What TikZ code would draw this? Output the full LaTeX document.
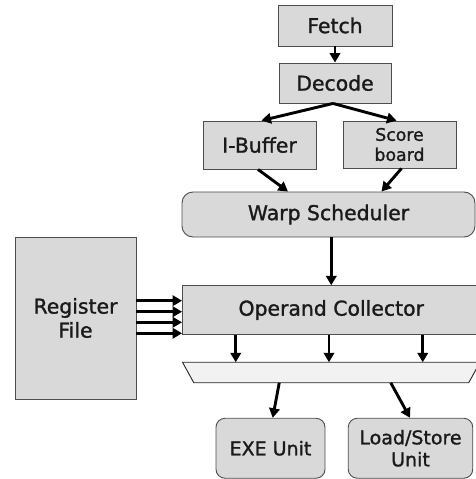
\documentclass[tikz,border=0pt]{standalone}
\usepackage{fontspec}
\setmainfont{DejaVu Sans}[FakeBold=1.3]
\usetikzlibrary{arrows.meta,calc}
\definecolor{boxfill}{HTML}{D9D9D9}
\definecolor{boxline}{HTML}{4D4D4D}
\definecolor{muxfill}{HTML}{F2F2F2}
\definecolor{txt}{HTML}{1A1A1A}
\begin{document}
\begin{tikzpicture}[x=1pt,y=-1pt,
  blk/.style={draw=boxline, line width=0.9pt, fill=boxfill, inner sep=0pt, align=center,
    text=txt, font=\fontsize{20.4}{24}\selectfont},
  rblk/.style={blk, rounded corners=11pt},
  arr/.style={line width=2.9pt, -{Triangle[length=9.5pt,width=10.5pt]}, black},
  ghost/.style={inner sep=0pt, outer sep=0pt}]
\useasboundingbox (0,0) rectangle (476,479);
\node[blk, minimum width=114pt, minimum height=41pt] (fetch) at (335,25.5) {Fetch};
\node[blk, minimum width=112pt, minimum height=40pt] (dec) at (335,83) {Decode};
\node[blk, minimum width=113pt, minimum height=48pt] (ibuf) at (259.5,145) {I-Buffer};
\node[blk, minimum width=113pt, minimum height=47pt, font=\fontsize{17.3}{20}\selectfont] (score) at (399.5,144.5) {Score\\board};
\node[rblk, minimum width=293pt, minimum height=45pt] (warp) at (328.5,214.5) {Warp Scheduler};
\node[blk, minimum width=121pt, minimum height=162pt] (reg) at (75.5,318) {Register\\File};
\node[blk, minimum width=297.5pt, minimum height=48.5pt] (opc) at (331.25,310) {Operand Collector};
\node[ghost, minimum width=297.5pt, minimum height=20.5pt] (mux) at (331.25,372.5) {};
\draw[draw=black!85, line width=0.9pt, fill=muxfill]
  (mux.north west) -- (mux.north east) -- ([xshift=-11.3pt]mux.south east)
  -- ([xshift=11.3pt]mux.south west) -- cycle;
\node[rblk, rounded corners=9pt, minimum width=109pt, minimum height=60pt, font=\fontsize{19}{22}\selectfont] (exe) at (270.5,448.25) {EXE Unit};
\node[rblk, rounded corners=9pt, minimum width=124.5pt, minimum height=60pt, font=\fontsize{19}{22}\selectfont] (ls) at (410.5,448.25) {Load/Store\\Unit};

\draw[arr] (fetch.south) -- (dec.north);
\draw[arr] ([xshift=-2pt]dec.south) -- ([xshift=2pt]ibuf.north);
\draw[arr] ([xshift=-2pt]dec.south) -- ([xshift=-3pt]score.north);
\draw[arr] ([xshift=-1.5pt]ibuf.south) -- ([xshift=-40.5pt]warp.north);
\draw[arr] ([xshift=2pt]score.south) -- ([xshift=53pt]warp.north);
\draw[arr] (opc.north |- warp.south) -- (opc.north);
\foreach \dx in {-95.5,-2.25,91.5}
  \draw[arr] ([xshift=\dx pt]opc.south) -- ([xshift=\dx pt]mux.north);
\draw[arr] ([xshift=-52pt]mux.south) -- ([xshift=2.2pt]exe.north);
\draw[arr] ([xshift=59.5pt]mux.south) -- ([xshift=-0.5pt]ls.north);
\foreach \dy in {17.3,6.3,-4.3,-15.3}
  \draw[arr] ([yshift=\dy pt]reg.east) -- ([yshift=\dy pt]reg.east -| opc.west);
\end{tikzpicture}
\end{document}
